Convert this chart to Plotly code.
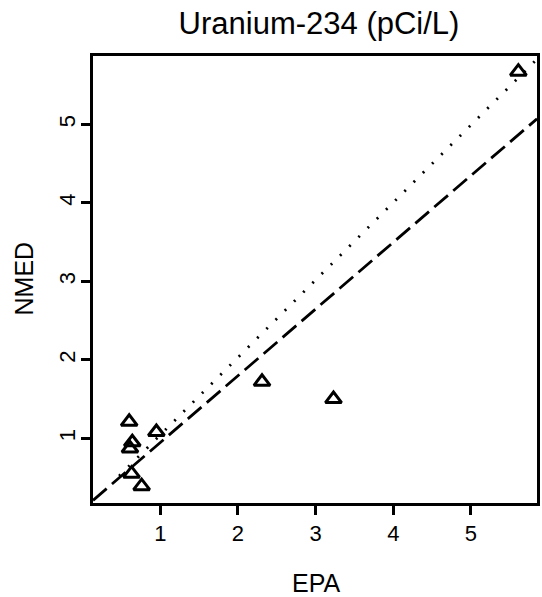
import plotly.graph_objects as go

# Data
epa = [0.60, 0.64, 0.61, 0.95, 0.63, 0.76, 2.31, 3.23, 5.61]
nmed = [1.21, 0.95, 0.87, 1.08, 0.55, 0.39, 1.72, 1.50, 5.67]

# reference lines (endpoints)
fit_x = [0.134, 5.85]
fit_y = [0.21, 5.07]
dot_x = [0.47, 5.85]
dot_y = [0.52, 5.83]

x_ticks = [1, 2, 3, 4, 5]
y_ticks = [1, 2, 3, 4, 5]
x_range = [0.134, 5.85]
y_range = [0.176, 5.87]

FONT = "Liberation Sans, Arial, Helvetica, sans-serif"
W, H = 542, 597
L, R, T, B = 93, 2, 56, 94

fig = go.Figure()
fig.add_trace(go.Scatter(x=fit_x, y=fit_y, mode="lines",
                         line=dict(color="black", width=2.8, dash="18px,7px"),
                         showlegend=False, hoverinfo="skip"))
fig.add_trace(go.Scatter(x=dot_x, y=dot_y, mode="lines",
                         line=dict(color="black", width=2.8, dash="2px,11px"),
                         showlegend=False, hoverinfo="skip"))
fig.add_trace(go.Scatter(x=epa, y=nmed, mode="markers",
                         marker=dict(symbol="triangle-up-open", size=14,
                                     color="black", line=dict(width=3, color="black")),
                         showlegend=False))

axis_common = dict(showline=True, linecolor="black", linewidth=3, mirror=True,
                   showgrid=False, zeroline=False, ticks="outside", ticklen=9,
                   tickwidth=2.5, tickcolor="black",
                   tickfont=dict(family=FONT, size=22, color="black"))

ph = H - T - B
pw = W - L - R
fig.update_layout(
    width=W, height=H,
    margin=dict(l=L, r=R, t=T, b=B),
    paper_bgcolor="white", plot_bgcolor="white",
    title=dict(text="Uranium-234 (pCi/L)", x=319 / W, xanchor="center", xref="container",
               y=1 - 23 / H, yanchor="middle", yref="container",
               font=dict(family=FONT, size=31, color="black")),
    xaxis=dict(range=x_range, tickvals=x_ticks, ticktext=[str(v) for v in x_ticks],
               ticklabelstandoff=0, **axis_common),
    yaxis=dict(range=y_range, tickvals=y_ticks, ticktext=[str(v) for v in y_ticks],
               tickangle=-90, ticklabelstandoff=-3, **axis_common),
    annotations=[
        dict(text="EPA", xref="paper", yref="paper",
             x=(318 - L) / pw, y=-(583 - (T + ph)) / ph,
             xanchor="center", yanchor="middle", showarrow=False, borderpad=0,
             font=dict(family=FONT, size=25, color="black")),
        dict(text="NMED", xref="paper", yref="paper",
             x=-(L - 24) / pw, y=(T + ph - 278) / ph, textangle=-90,
             xanchor="center", yanchor="middle", showarrow=False, borderpad=0,
             font=dict(family=FONT, size=25, color="black")),
    ],
)

fig.write_html("out.html", config={"displayModeBar": False},
               post_script="document.body.style.margin='0';document.body.style.overflow='hidden';")
